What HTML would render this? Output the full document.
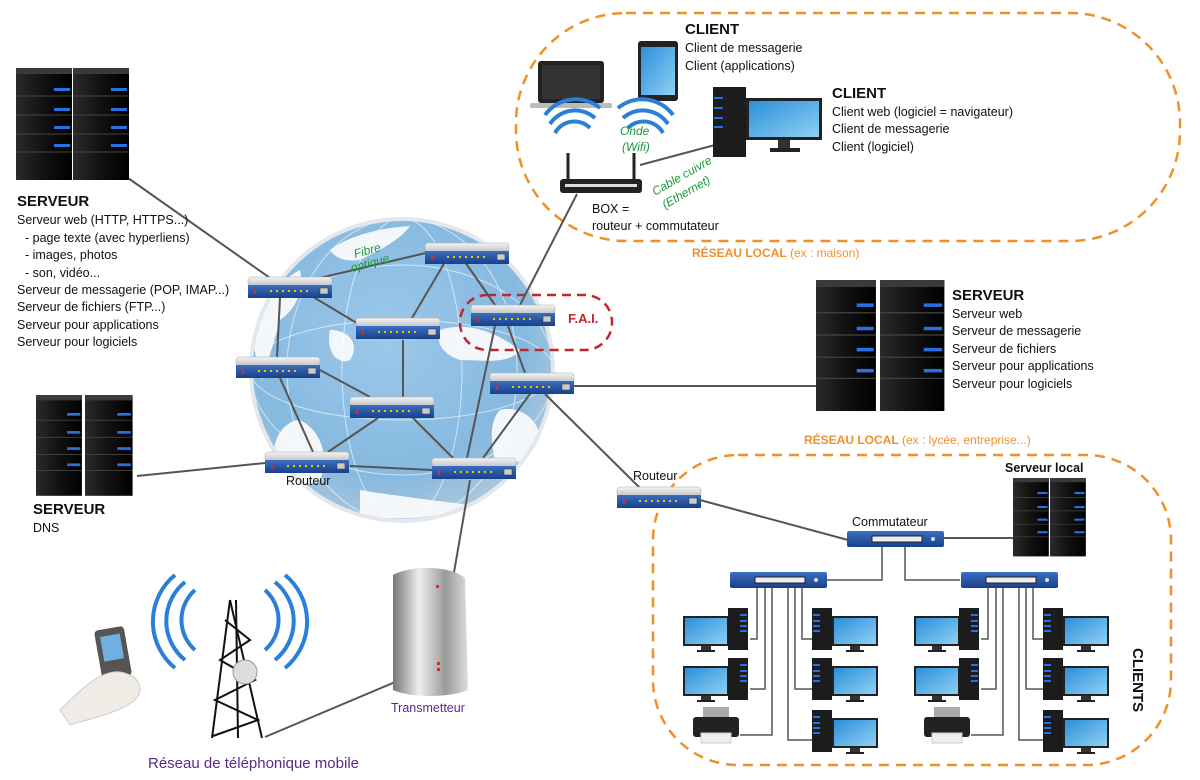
<!DOCTYPE html>
<html><head><meta charset="utf-8"><style>
html,body{margin:0;padding:0;background:#fff;}
svg{display:block}
text{font-family:"Liberation Sans",sans-serif;}
</style></head><body>
<svg width="1200" height="780" viewBox="0 0 1200 780" xmlns="http://www.w3.org/2000/svg">
<defs>
<radialGradient id="globe" cx="0.45" cy="0.4" r="0.6">
<stop offset="0" stop-color="#9cc8ea"/><stop offset="0.75" stop-color="#86b9df"/><stop offset="1" stop-color="#a9c6dc"/></radialGradient>
<linearGradient id="tw" x1="0" x2="1"><stop offset="0" stop-color="#2a2a2a"/><stop offset="0.5" stop-color="#111"/><stop offset="1" stop-color="#000"/></linearGradient>
<linearGradient id="rtop" x1="0" y1="0" x2="0" y2="1"><stop offset="0" stop-color="#f4f4f4"/><stop offset="1" stop-color="#bfc2c6"/></linearGradient>
<linearGradient id="rblue" x1="0" y1="0" x2="0" y2="1"><stop offset="0" stop-color="#3c6fc0"/><stop offset="1" stop-color="#17408a"/></linearGradient>
<linearGradient id="scr" x1="0" y1="0" x2="1" y2="1"><stop offset="0" stop-color="#2b8fd8"/><stop offset="1" stop-color="#8fd0f5"/></linearGradient>
<linearGradient id="tm" x1="0" x2="1"><stop offset="0" stop-color="#777"/><stop offset="0.35" stop-color="#eee"/><stop offset="0.7" stop-color="#9a9a9a"/><stop offset="1" stop-color="#ddd"/></linearGradient>
<g id="srv">
<rect x="0" y="0" width="56" height="112" fill="url(#tw)"/>
<rect x="0" y="0" width="56" height="6" fill="#3a3a3a"/>
<g fill="#2a6fe0"><rect x="38" y="20" width="16" height="3"/><rect x="38" y="40" width="16" height="3"/><rect x="38" y="58" width="16" height="3"/><rect x="38" y="76" width="16" height="3"/></g>
<g stroke="#444" stroke-width="1"><line x1="0" y1="28" x2="56" y2="28"/><line x1="0" y1="47" x2="56" y2="47"/><line x1="0" y1="66" x2="56" y2="66"/><line x1="0" y1="84" x2="56" y2="84"/></g>
</g>
<g id="rt">
<rect x="0" y="0" width="84" height="9" rx="3" fill="url(#rtop)" stroke="#aaa" stroke-width="0.5"/>
<rect x="0" y="8" width="84" height="13" fill="url(#rblue)"/>
<g fill="#f2c200"><rect x="22" y="13" width="2" height="2"/><rect x="28" y="13" width="2" height="2"/><rect x="34" y="13" width="2" height="2"/><rect x="40" y="13" width="2" height="2"/><rect x="46" y="13" width="2" height="2"/><rect x="52" y="13" width="2" height="2"/><rect x="58" y="13" width="2" height="2"/></g>
<rect x="6" y="13" width="2" height="4" fill="#e22"/>
<rect x="72" y="11" width="8" height="6" fill="#ccc" stroke="#333" stroke-width="0.5"/>
</g>
<g id="sw">
<rect x="0" y="0" width="97" height="16" rx="2" fill="url(#rblue)"/>
<rect x="25" y="5" width="50" height="6" fill="#eee" stroke="#222" stroke-width="1"/>
<circle cx="86" cy="8" r="2" fill="#ddd"/>
</g>
<g id="pcL">
<rect x="0" y="8" width="46" height="30" fill="#222"/><rect x="2" y="10" width="42" height="26" fill="url(#scr)"/>
<rect x="18" y="38" width="10" height="4" fill="#333"/><rect x="14" y="42" width="18" height="2" fill="#222"/>
<rect x="45" y="0" width="20" height="42" fill="#1c1c1c"/>
<g fill="#2a6fe0"><rect x="57" y="6" width="7" height="2"/><rect x="57" y="12" width="7" height="2"/><rect x="57" y="17" width="7" height="2"/><rect x="57" y="22" width="7" height="2"/></g>
</g>
<g id="pcR">
<rect x="0" y="0" width="20" height="42" fill="#1c1c1c"/>
<g fill="#2a6fe0"><rect x="1" y="6" width="7" height="2"/><rect x="1" y="12" width="7" height="2"/><rect x="1" y="17" width="7" height="2"/><rect x="1" y="22" width="7" height="2"/></g>
<rect x="20" y="8" width="46" height="30" fill="#222"/><rect x="22" y="10" width="42" height="26" fill="url(#scr)"/>
<rect x="38" y="38" width="10" height="4" fill="#333"/><rect x="34" y="42" width="18" height="2" fill="#222"/>
</g>
<g id="prn">
<rect x="10" y="0" width="26" height="10" fill="#aaa"/>
<rect x="0" y="10" width="46" height="20" rx="3" fill="#222"/>
<rect x="8" y="26" width="30" height="10" fill="#eee" stroke="#ccc"/>
</g>
</defs>

<rect x="516" y="13" width="664" height="228" rx="110" fill="none" stroke="#f0902a" stroke-width="2.5" stroke-dasharray="10,7"/>
<rect x="653" y="455" width="518" height="310" rx="85" fill="none" stroke="#f0902a" stroke-width="2.5" stroke-dasharray="10,7"/>

<!-- globe -->
<circle cx="402" cy="370" r="152" fill="url(#globe)"/>
<g fill="#f4f7fa">
<path d="M255 330 C262 300 280 280 300 270 C305 290 295 310 280 320 C275 340 268 360 262 380 C256 360 252 345 255 330Z"/>
<path d="M330 250 C350 235 380 228 410 226 C400 240 380 250 360 260 C345 262 335 258 330 250Z"/>
<path d="M440 330 C470 320 500 335 520 350 C510 365 480 360 460 360 C445 355 435 345 440 330Z"/>
<path d="M330 330 C350 330 360 345 350 360 C340 365 325 355 330 330Z"/>
<path d="M300 420 C320 430 330 455 320 480 C305 490 285 480 275 460 C270 440 285 420 300 420Z"/>
<path d="M500 410 C520 405 540 420 540 440 C530 460 510 470 495 460 C490 440 490 420 500 410Z"/>
<path d="M360 490 C390 495 430 500 470 505 C440 518 400 522 360 515Z"/>
</g>
<g fill="none" stroke="#fff" stroke-width="1" opacity="0.6">
<ellipse cx="402" cy="370" rx="60" ry="152"/><ellipse cx="402" cy="370" rx="115" ry="152"/>
<ellipse cx="402" cy="370" rx="152" ry="50"/><ellipse cx="402" cy="370" rx="152" ry="105"/>
</g>
<circle cx="402" cy="370" r="151" fill="none" stroke="#e4e8ec" stroke-width="4"/>

<rect x="460" y="295" width="152" height="55" rx="27" fill="none" stroke="#c0262c" stroke-width="2.5" stroke-dasharray="9,6"/>
<text x="568" y="323" font-size="13" font-weight="bold" fill="#c0262c">F.A.I.</text>

<g stroke="#555" stroke-width="2" fill="none">
<line x1="128" y1="178" x2="280" y2="285"/>
<line x1="290" y1="285" x2="430" y2="252"/>
<line x1="310" y1="295" x2="360" y2="325"/>
<line x1="280" y1="298" x2="277" y2="357"/>
<line x1="445" y1="262" x2="412" y2="318"/>
<line x1="465" y1="262" x2="495" y2="305"/>
<line x1="403" y1="340" x2="403" y2="397"/>
<line x1="320" y1="370" x2="370" y2="397"/>
<line x1="280" y1="378" x2="313" y2="452"/>
<line x1="328" y1="452" x2="378" y2="418"/>
<line x1="350" y1="466" x2="432" y2="470"/>
<line x1="412" y1="417" x2="453" y2="458"/>
<line x1="495" y1="326" x2="467" y2="458"/>
<line x1="508" y1="326" x2="525" y2="373"/>
<line x1="530" y1="394" x2="483" y2="458"/>
<line x1="574" y1="386" x2="818" y2="386"/>
<line x1="545" y1="394" x2="640" y2="488"/>
<line x1="520" y1="305" x2="577" y2="194"/>
<line x1="137" y1="476" x2="265" y2="463"/>
<line x1="470" y1="480" x2="453" y2="578"/>
<line x1="400" y1="680" x2="265" y2="737"/>
<line x1="640" y1="165" x2="715" y2="145"/>
<line x1="700" y1="500" x2="848" y2="540"/>
<line x1="943" y1="538" x2="1015" y2="538"/>
</g>
<g stroke="#555" stroke-width="1.5" fill="none">
<polyline points="882,547 882,580 827,580"/><polyline points="905,547 905,580 960,580"/>
<polyline points="757,588 757,639 750,639"/><polyline points="765,588 765,689 750,689"/><polyline points="772,588 772,735 740,735"/>
<polyline points="788,588 788,740 812,740"/><polyline points="795,588 795,689 812,689"/><polyline points="802,588 802,639 812,639"/>
<polyline points="988,588 988,639 981,639"/><polyline points="996,588 996,689 981,689"/><polyline points="1003,588 1003,735 971,735"/>
<polyline points="1019,588 1019,740 1043,740"/><polyline points="1026,588 1026,689 1043,689"/><polyline points="1033,588 1033,639 1043,639"/>
</g>

<use href="#rt" x="248" y="277"/><use href="#rt" x="425" y="243"/><use href="#rt" x="356" y="318"/>
<use href="#rt" x="471" y="305"/><use href="#rt" x="236" y="357"/><use href="#rt" x="490" y="373"/>
<use href="#rt" x="350" y="397"/><use href="#rt" x="265" y="452"/><use href="#rt" x="432" y="458"/>
<use href="#rt" x="617" y="487"/>
<use href="#sw" x="847" y="531"/><use href="#sw" x="730" y="572"/><use href="#sw" x="961" y="572"/>

<use href="#srv" x="16" y="68"/><use href="#srv" x="73" y="68"/>
<use href="#srv" transform="translate(36,395) scale(0.82,0.9)"/><use href="#srv" transform="translate(85,395) scale(0.85,0.9)"/>
<use href="#srv" transform="translate(816,280) scale(1.07,1.17)"/><use href="#srv" transform="translate(880,280) scale(1.15,1.17)"/>
<use href="#srv" transform="translate(1013,478) scale(0.64,0.7)"/><use href="#srv" transform="translate(1050,478) scale(0.64,0.7)"/>

<use href="#pcL" x="683" y="608"/><use href="#pcL" x="683" y="658"/><use href="#prn" x="693" y="707"/>
<use href="#pcR" x="812" y="608"/><use href="#pcR" x="812" y="658"/><use href="#pcR" x="812" y="710"/>
<use href="#pcL" x="914" y="608"/><use href="#pcL" x="914" y="658"/><use href="#prn" x="924" y="707"/>
<use href="#pcR" x="1043" y="608"/><use href="#pcR" x="1043" y="658"/><use href="#pcR" x="1043" y="710"/>

<rect x="538" y="61" width="66" height="42" rx="3" fill="#222"/><rect x="542" y="65" width="58" height="34" fill="#333"/>
<rect x="530" y="103" width="82" height="5" rx="2" fill="#bbb"/>
<rect x="638" y="41" width="40" height="60" rx="3" fill="#222"/><rect x="641" y="47" width="34" height="48" fill="url(#scr)"/>
<rect x="713" y="87" width="33" height="70" fill="#1c1c1c"/>
<g fill="#2a6fe0"><rect x="714" y="97" width="9" height="2"/><rect x="714" y="107" width="9" height="2"/><rect x="714" y="117" width="9" height="2"/><rect x="714" y="126" width="9" height="2"/></g>
<rect x="746" y="98" width="76" height="42" fill="#222"/><rect x="749" y="101" width="70" height="36" fill="url(#scr)"/>
<rect x="778" y="140" width="12" height="8" fill="#333"/><rect x="770" y="148" width="30" height="4" fill="#222"/>
<line x1="568" y1="153" x2="568" y2="180" stroke="#222" stroke-width="3"/><line x1="634" y1="153" x2="634" y2="180" stroke="#222" stroke-width="3"/>
<rect x="560" y="179" width="82" height="14" rx="3" fill="#222"/><rect x="565" y="184" width="72" height="3" fill="#ddd"/>
<g fill="none" stroke="#2a7fd8" stroke-width="4">
<path d="M555 133 A22 22 0 0 1 590 128"/><path d="M550 124 A30 30 0 0 1 595 118"/><path d="M545 115 A38 38 0 0 1 600 108"/>
<path d="M628 128 A22 22 0 0 1 663 133"/><path d="M623 118 A30 30 0 0 1 668 124"/><path d="M618 108 A38 38 0 0 1 673 115"/>
</g>

<g fill="none" stroke="#2a7fd8" stroke-width="4">
<path d="M195 590 A40 40 0 0 0 195 650"/><path d="M185 582 A50 50 0 0 0 185 660"/><path d="M175 575 A60 60 0 0 0 175 668"/>
<path d="M265 590 A40 40 0 0 1 265 650"/><path d="M275 582 A50 50 0 0 1 275 660"/><path d="M285 575 A60 60 0 0 1 285 668"/>
</g>
<g stroke="#111" stroke-width="2" fill="none">
<line x1="230" y1="600" x2="212" y2="738"/><line x1="230" y1="600" x2="262" y2="738"/><line x1="236" y1="600" x2="238" y2="738"/>
<path d="M225 620 L250 640 L220 660 L255 680 L215 700 L258 720 L213 736"/>
</g>
<ellipse cx="245" cy="672" rx="12" ry="12" fill="#ddd" stroke="#999"/>
<rect x="98" y="628" width="30" height="50" rx="4" fill="#555" transform="rotate(-10 113 653)"/>
<rect x="103" y="635" width="20" height="25" fill="#6fb0e0" transform="rotate(-10 113 653)"/>
<path d="M60 710 C80 690 100 670 120 672 C140 675 145 690 135 700 C115 715 90 718 70 725Z" fill="#f1ebe6" stroke="#ccc"/>
<path d="M393 575 C410 565 450 565 465 578 L468 690 C450 698 410 698 393 690Z" fill="url(#tm)"/>
<g fill="#e22"><rect x="436" y="585" width="3" height="3"/><rect x="437" y="662" width="3" height="3"/><rect x="437" y="668" width="3" height="3"/></g>

<g font-size="12.5" fill="#111">
<text x="17" y="206" font-weight="bold" font-size="15">SERVEUR</text>
<text x="17" y="224">Serveur web (HTTP, HTTPS...)</text>
<text x="25" y="242">- page texte (avec hyperliens)</text>
<text x="25" y="259">- images, photos</text>
<text x="25" y="277">- son, vidéo...</text>
<text x="17" y="294">Serveur de messagerie (POP, IMAP...)</text>
<text x="17" y="311">Serveur de fichiers (FTP...)</text>
<text x="17" y="329">Serveur  pour applications</text>
<text x="17" y="346">Serveur pour logiciels</text>
<text x="33" y="514" font-weight="bold" font-size="15">SERVEUR</text>
<text x="33" y="532">DNS</text>
<text x="286" y="485">Routeur</text>
<text x="633" y="480">Routeur</text>
<text x="852" y="526">Commutateur</text>
<text x="1005" y="472" font-weight="bold">Serveur local</text>
<text x="952" y="300" font-weight="bold" font-size="15">SERVEUR</text>
<text x="952" y="318">Serveur web</text>
<text x="952" y="335">Serveur de messagerie</text>
<text x="952" y="353">Serveur de fichiers</text>
<text x="952" y="370">Serveur pour applications</text>
<text x="952" y="388">Serveur pour logiciels</text>
<text x="685" y="34" font-weight="bold" font-size="15">CLIENT</text>
<text x="685" y="52">Client de messagerie</text>
<text x="685" y="70">Client (applications)</text>
<text x="832" y="98" font-weight="bold" font-size="15">CLIENT</text>
<text x="832" y="116">Client web (logiciel = navigateur)</text>
<text x="832" y="133">Client de messagerie</text>
<text x="832" y="151">Client (logiciel)</text>
<text x="592" y="213">BOX =</text>
<text x="592" y="230">routeur + commutateur</text>
</g>
<text x="692" y="257" font-size="12" fill="#f0902a"><tspan font-weight="bold">RÉSEAU LOCAL</tspan> (ex : maison)</text>
<text x="804" y="444" font-size="12" fill="#f0902a"><tspan font-weight="bold">RÉSEAU LOCAL</tspan> (ex : lycée, entreprise...)</text>
<g font-size="12" fill="#1a9a3a" font-style="italic">
<text x="620" y="135">Onde</text><text x="622" y="151">(Wifi)</text>
<text x="355" y="258" transform="rotate(-15 355 258)">Fibre</text><text x="352" y="272" transform="rotate(-15 352 272)">optique</text>
<text x="655" y="196" transform="rotate(-30 655 196)">Cable cuivre</text><text x="665" y="209" transform="rotate(-30 665 209)">(Ethernet)</text>
</g>
<text x="391" y="712" font-size="12.5" fill="#5a2a8a">Transmetteur</text>
<text x="148" y="768" font-size="15" fill="#5a2a8a">Réseau de téléphonique mobile</text>
<text x="1133" y="648" font-size="15" font-weight="bold" fill="#111" transform="rotate(90 1133 648)">CLIENTS</text>
</svg>
</body></html>
